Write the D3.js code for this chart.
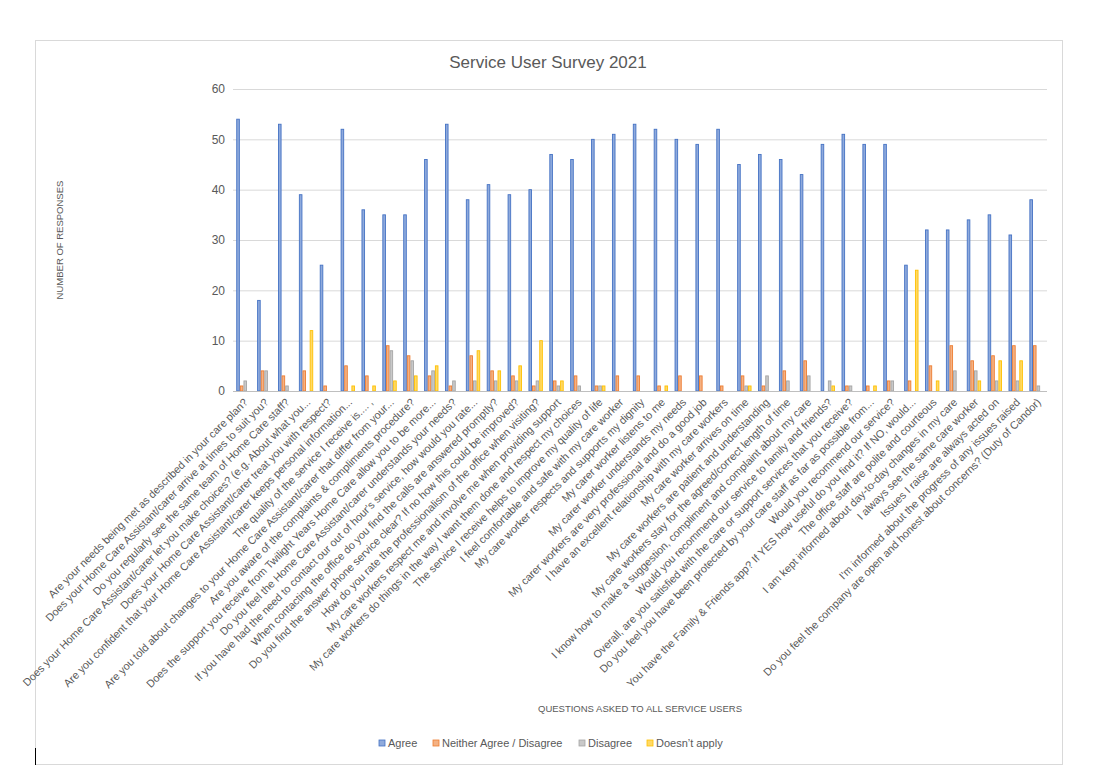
<!DOCTYPE html>
<html>
<head>
<meta charset="utf-8">
<script src="https://cdn.jsdelivr.net/npm/d3@7"></script>
<style>
  body { margin: 0; background: #fff; }
  text { font-family: "Liberation Sans", Arial, sans-serif; fill: #595959; }
</style>
</head>
<body>
<div id="chart"></div>
<script>

// Chart data
// ==============================
var questions = [
  "Are your needs being met as described in your care plan?",
  "Does your Home Care Assistant/carer arrive at times to suit you?",
  "Do you regularly see the same team of Home Care staff?",
  "Does your Home Care Assistant/carer let you make choices? (e.g. About what you...",
  "Does your Home Care Assistant/carer treat you with respect?",
  "Are you confident that your Home Care Assistant/carer keeps personal information...",
  "The quality of the service I receive is.... ,",
  "Are you told about changes to your Home Care Assistant/carer that differ from your...",
  "Are you aware of the complaints & compliments procedure?",
  "Does the support you receive from Twilight Years Home Care allow you to be more...",
  "Do you feel the Home Care Assistant/carer understands your needs?",
  "If you have had the need to contact our out of hour's service, how would you rate...",
  "When contacting the office do you find the calls are answered promptly?",
  "Do you find the answer phone service clear? If no how this could be improved?",
  "How do you rate the professionalism of the office when visiting?",
  "My care workers respect me and involve me when providing support",
  "My care workers do things in the way I want them done and respect my choices",
  "The service I receive helps to improve my quality of life",
  "I feel comfortable and safe with my care worker",
  "My care worker respects and supports my dignity",
  "My carer worker listens to me",
  "My carer worker understands my needs",
  "My carer workers are very professional and do a good job",
  "I have an excellent relationship with my care workers",
  "My care worker arrives on time",
  "My care workers are patient and understanding",
  "My care workers stay for the agreed/correct length of time",
  "I know how to make a suggestion, compliment and complaint about my care",
  "Would you recommend our service to family and friends?",
  "Overall, are you satisfied with the care or support services that you receive?",
  "Do you feel you have been protected by your care staff as far as possible from...",
  "Would you recommend our service?",
  "You have the Family & Friends app? If YES how useful do you find it? If NO, would...",
  "The office staff are polite and courteous",
  "I am kept informed about day-to-day changes in my care",
  "I always see the same care worker",
  "Issues I raise are always acted on",
  "I'm informed about the progress of any issues raised",
  "Do you feel the company are open and honest about concerns? (Duty of Candor)"
];

var seriesNames = ["Agree", "Neither Agree / Disagree", "Disagree", "Doesn\u2019t apply"];

var agree =    [54, 18, 53, 39, 25, 52, 36, 35, 35, 46, 53, 38, 41, 39, 40, 47, 46, 50, 51, 53,
                52, 50, 49, 52, 45, 47, 46, 43, 49, 51, 49, 49, 25, 32, 32, 34, 35, 31, 38];
var neither =  [1, 4, 3, 4, 1, 5, 3, 9, 7, 3, 1, 7, 4, 3, 1, 2, 3, 1, 3, 3,
                1, 3, 3, 1, 3, 1, 4, 6, 0, 1, 1, 2, 2, 5, 9, 6, 7, 9, 9];
var disagree = [2, 4, 1, 0, 0, 0, 0, 8, 6, 4, 2, 2, 2, 2, 2, 1, 1, 1, 0, 0,
                0, 0, 0, 0, 1, 3, 2, 3, 2, 1, 0, 2, 0, 0, 4, 4, 2, 2, 1];
var noApply =  [0, 0, 0, 12, 0, 1, 1, 2, 3, 5, 0, 8, 4, 5, 10, 2, 0, 1, 0, 0,
                1, 0, 0, 0, 1, 0, 0, 0, 1, 0, 1, 0, 24, 2, 0, 2, 6, 6, 0];

var yTicks = [0, 10, 20, 30, 40, 50, 60];

var fills = ["#8faadc", "#f4b183", "#c9c9c9", "#ffd966"];
var strokes = ["#4472c4", "#ed7d31", "#a5a5a5", "#ffc000"];

// Set chart parameters
// ==============================
var svgWidth = 1099;
var svgHeight = 777;

var plot = { left: 233, right: 1047, top: 89, bottom: 391 };

var svg = d3.select("#chart")
  .append("svg")
  .attr("width", svgWidth)
  .attr("height", svgHeight);

// chart border
svg.append("rect")
  .attr("x", 35.5)
  .attr("y", 40.5)
  .attr("width", 1027)
  .attr("height", 724)
  .attr("fill", "none")
  .attr("stroke", "#d9d9d9");

svg.append("line")
  .attr("x1", 35.5).attr("x2", 35.5)
  .attr("y1", 748).attr("y2", 765)
  .attr("stroke", "#000");

// Scales
// ==============================
var table = questions.map(function(q, i) {
  return { q: q, values: [agree[i], neither[i], disagree[i], noApply[i]] };
});

var x0 = d3.scaleBand()
  .domain(questions)
  .range([plot.left, plot.right])
  .paddingInner(0.31)
  .paddingOuter(0.155);

var x1 = d3.scaleBand()
  .domain(d3.range(4))
  .range([0, x0.bandwidth()]);

var y = d3.scaleLinear()
  .domain([0, 60])
  .range([plot.bottom, plot.top]);

// Gridlines and y axis
// ==============================
var leftAxis = d3.axisLeft(y)
  .tickValues(yTicks)
  .tickSize(-(plot.right - plot.left))
  .tickPadding(8);

var yAxis = svg.append("g")
  .attr("transform", `translate(${plot.left}, 0)`)
  .call(leftAxis);

yAxis.select(".domain").remove();
yAxis.selectAll(".tick line").attr("stroke", "#d9d9d9");
yAxis.selectAll(".tick text")
  .attr("font-size", "12px")
  .style("font-family", "Liberation Sans, Arial, sans-serif")
  .attr("fill", "#595959");

// Bars
// ==============================
var groups = svg.selectAll(".question")
  .data(table)
  .enter()
  .append("g")
  .attr("class", "question")
  .attr("transform", d => `translate(${x0(d.q)}, 0)`);

groups.selectAll("rect")
  .data(d => d.values.map(function(v, k) { return { k: k, v: v }; }).filter(e => e.v > 0))
  .enter()
  .append("rect")
  .attr("x", d => x1(d.k) + 0.5)
  .attr("y", d => y(d.v))
  .attr("width", x1.bandwidth() - 1)
  .attr("height", d => y(0) - y(d.v))
  .attr("fill", d => fills[d.k])
  .attr("stroke", d => strokes[d.k])
  .attr("stroke-width", 0.9);

// X axis
// ==============================
svg.append("line")
  .attr("x1", plot.left).attr("x2", plot.right)
  .attr("y1", plot.bottom + 0.5).attr("y2", plot.bottom + 0.5)
  .attr("stroke", "#bfbfbf");

svg.selectAll(".qlabel")
  .data(questions)
  .enter()
  .append("text")
  .attr("class", "qlabel")
  .attr("text-anchor", "end")
  .attr("font-size", "10.8px")
  .attr("transform", d => `translate(${x0(d) + x0.bandwidth() / 2 + 5}, ${plot.bottom + 12}) rotate(-45)`)
  .text(d => d);

// Titles
// ==============================
svg.append("text")
  .attr("x", 548)
  .attr("y", 68)
  .attr("text-anchor", "middle")
  .attr("font-size", "17px")
  .text("Service User Survey 2021");

svg.append("text")
  .attr("transform", "translate(63, 240) rotate(-90)")
  .attr("text-anchor", "middle")
  .attr("font-size", "9.5px")
  .text("NUMBER OF RESPONSES");

svg.append("text")
  .attr("x", 640)
  .attr("y", 712)
  .attr("text-anchor", "middle")
  .attr("font-size", "9.5px")
  .text("QUESTIONS ASKED TO ALL SERVICE USERS");

// Legend
// ==============================
var legendX = [379, 433, 579, 647];

var legend = svg.selectAll(".legend")
  .data(seriesNames)
  .enter()
  .append("g")
  .attr("class", "legend")
  .attr("transform", (d, i) => `translate(${legendX[i]}, 740)`);

legend.append("rect")
  .attr("width", 6)
  .attr("height", 6)
  .attr("fill", (d, i) => fills[i])
  .attr("stroke", (d, i) => strokes[i])
  .attr("stroke-width", 0.8);

legend.append("text")
  .attr("x", 9)
  .attr("y", 7)
  .attr("font-size", "11px")
  .text(d => d);

</script>
</body>
</html>
